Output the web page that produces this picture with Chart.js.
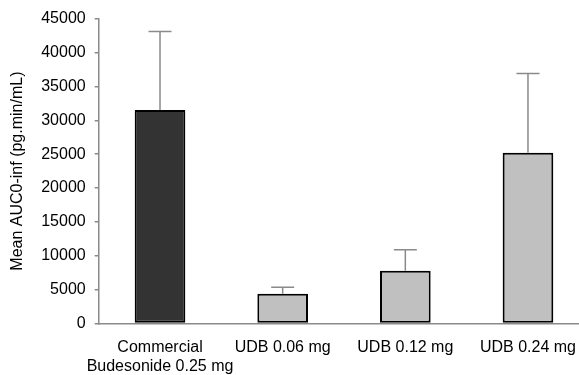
<!DOCTYPE html>
<html>
<head>
<meta charset="utf-8">
<script src="https://cdn.jsdelivr.net/npm/chart.js@4"></script>
<style>
  html, body { margin: 0; padding: 0; background: #fff; overflow: hidden; }
</style>
</head>
<body>
<canvas id="chart" width="590" height="390"></canvas>
<script>
// data
var groups = [["Commercial", "Budesonide 0.25 mg"], "UDB 0.06 mg", "UDB 0.12 mg", "UDB 0.24 mg"];
var meanAuc = [31500, 4400, 7800, 25200];
var sdAuc = [11600, 950, 3100, 11700];
var barColors = ["#333333", "#c0c0c0", "#c0c0c0", "#c0c0c0"];
var yTicks = [0, 5000, 10000, 15000, 20000, 25000, 30000, 35000, 40000, 45000];

// draws the upper error bars (mean + sd) through the y scale
var errorBars = {
    id: "errorBars",
    afterDatasetsDraw: function(chart){
        var ctx = chart.ctx;
        var yScale = chart.scales.y;
        var meta = chart.getDatasetMeta(0);
        ctx.save();
        ctx.strokeStyle = "#8a8a8a";
        ctx.lineWidth = 1.5;
        meta.data.forEach(function(bar, i){
            var yTop = yScale.getPixelForValue(meanAuc[i] + sdAuc[i]);
            var yBar = yScale.getPixelForValue(meanAuc[i]);
            ctx.beginPath();
            ctx.moveTo(bar.x, yBar);
            ctx.lineTo(bar.x, yTop);
            ctx.moveTo(bar.x - 11.5, yTop);
            ctx.lineTo(bar.x + 11.5, yTop);
            ctx.stroke();
        });
        ctx.restore();
    }
};

var ctx = document.getElementById("chart").getContext("2d");
var chart = new Chart(ctx, {
    type: "bar",
    data: {
        labels: groups,
        datasets: [{
            data: meanAuc,
            backgroundColor: barColors,
            borderColor: "#000000",
            borderWidth: 2,
            borderSkipped: false,
            barPercentage: 0.413,
            categoryPercentage: 1
        }]
    },
    options: {
        responsive: false,
        animation: false,
        layout: {
            padding: { left: 8, top: 7, right: 0, bottom: 0 }
        },
        plugins: {
            legend: { display: false },
            tooltip: { enabled: false }
        },
        scales: {
            x: {
                grid: { display: false, drawTicks: false },
                border: { color: "#8a8a8a", width: 1.5 },
                ticks: {
                    color: "#000",
                    padding: 14,
                    maxRotation: 0,
                    autoSkip: false,
                    font: { family: "Liberation Sans", size: 16 }
                }
            },
            y: {
                min: 0,
                max: 45000,
                afterBuildTicks: function(axis){
                    axis.ticks = yTicks.map(function(v){ return { value: v }; });
                },
                grid: {
                    drawOnChartArea: false,
                    drawTicks: true,
                    tickLength: 4,
                    color: "#8a8a8a",
                    lineWidth: 1.5
                },
                border: { color: "#8a8a8a", width: 1.5 },
                ticks: {
                    color: "#000",
                    padding: 9,
                    font: { family: "Liberation Sans", size: 16 },
                    callback: function(v){ return String(v); }
                },
                title: {
                    display: true,
                    text: "Mean AUC0-inf (pg.min/mL)",
                    color: "#000",
                    padding: { top: 0, bottom: 5 },
                    font: { family: "Liberation Sans", size: 16 }
                }
            }
        }
    },
    plugins: [errorBars]
});
</script>
</body>
</html>
